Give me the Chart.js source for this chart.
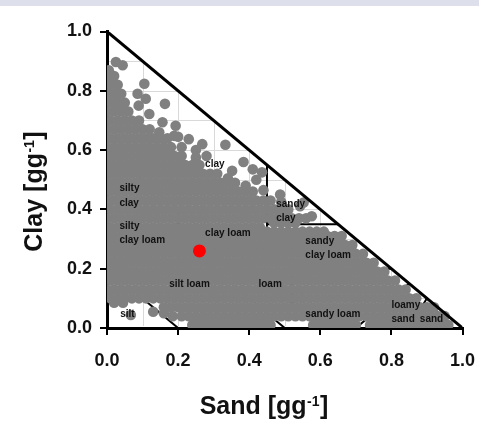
<!DOCTYPE html>
<html><head><meta charset="utf-8">
<script src="https://cdn.jsdelivr.net/npm/chart.js@4.4.0/dist/chart.umd.min.js"></script>
<style>html,body{margin:0;padding:0;background:#fff;}canvas{display:block;}</style>
</head><body>
<canvas id="c" width="479" height="434"></canvas>
<script>
// ---- tick labels / titles ----
const xTickLabels = ['0.0','0.2','0.4','0.6','0.8','1.0'];
const yTickLabels = ['0.0','0.2','0.4','0.6','0.8','1.0'];
const xTitleText = 'Sand [gg';
const yTitleText = 'Clay [gg';
const titleSup = '-1';
const gridValues = [0.1,0.2,0.3,0.4,0.5,0.6,0.7,0.8,0.9];

// ---- soil samples (percent): rows of clay with the sand values ----
const sampleClay = [1,4,7,10,13,16,19,22,25,28,31,34,32.5,35.5,37,40,43,46,49,52,55,58,61,64,67,70,73,76,79,82,85];
const sampleSand = [
 [24,26,28,30,32,34,36,38,40,42,44,46,58,60,62,64,66,68,70,74,76,78,80,82,84,86,88,90,92,94,96],
 [21,23,25,27,29,31,33,35,37,39,41,43,45,47,49,51,53,55,57,59,61,63,65,67,69,71,73,75,77,79,81,83,85,87,89,91,93,95],
 [16,18,20,22,24,26,28,30,32,34,36,38,40,42,44,46,48,50,52,54,56,58,60,62,64,66,68,70,72,74,76,78,80,82,84,86,88,90,92],
 [1,3,5,7,9,11,13,15,17,19,21,23,25,27,29,31,33,35,37,39,41,43,45,47,49,51,53,55,57,59,61,63,65,67,69,71,73,75,77,79,81,83,85,87],
 [0,2,4,6,8,10,12,14,16,18,20,22,24,26,28,30,32,34,36,38,40,42,44,46,48,50,52,54,56,58,60,62,64,66,68,70,72,74,76,78,80,82,84],
 [1,3,5,7,9,11,13,15,17,19,21,23,25,27,29,31,33,35,37,39,41,43,45,47,49,51,53,55,57,59,61,63,65,67,69,71,73,75,77,79,81],
 [0,2,4,6,8,10,12,14,16,18,20,22,24,26,28,30,32,34,36,38,40,42,44,46,48,50,52,54,56,58,60,62,64,66,68,70,72,74,76,78],
 [1,3,5,7,9,11,13,15,17,19,21,23,25,27,29,31,33,35,37,39,41,43,45,47,49,51,53,55,57,59,61,63,65,67,69,71,73,75],
 [0,2,4,6,8,10,12,14,16,18,20,22,24,26,28,30,32,34,36,38,40,42,44,46,48,50,52,54,56,58,60,62,64,66,68,70,72],
 [1,3,5,7,9,11,13,15,17,19,21,23,25,27,29,31,33,35,37,39,41,43,45,47,49,51,53,55,57,59,61,63,65,67,69],
 [0,2,4,6,8,10,12,14,16,18,20,22,24,26,28,30,32,34,36,38,40,42,44,46,48,50,52,54,56,58,60,62,64,66],
 [1,3,5,7,9,11,13,15,17,19,21,23,25,27,29,31,33,35,37,39,41,43],
 [45,47,49,51,53,55,57,59,61],
 [47,49,51,53],
 [0,2,4,6,8,10,12,14,16,18,20,22,24,26,28,30,32,34,36,38,40,42,44,46,48,50,52,54,56],
 [1,3,5,7,9,11,13,15,17,19,21,23,25,27,29,31,33,35,37,39,41,43,45,47,49,51],
 [0,2,4,6,8,10,12,14,16,18,20,22,24,26,28,30,32,34,36,38,40,42,44,46],
 [1,3,5,7,9,11,13,15,17,19,21,23,25,27,29,31,33,35,37,39,41],
 [0,2,4,6,8,10,12,14,16,18,20,22,24,26,28,30,32,34,36],
 [1,3,5,7,9,11,13,15,17,19,21,23,25,27,29,31],
 [0,2,4,6,8,10,12,14,16,18,20,22,24,26],
 [1,3,5,7,9,11,13,15,17,19,21],
 [0,2,4,6,8,10,12,14,16,18],
 [1,3,5,7,9,11,13,15,17],
 [0,2,4,6,8,10,12],
 [1,3,5,7,9],
 [0,2,4,6],
 [1,3,5],
 [0,2,4],
 [1,3],
 [0,2]
];
// isolated samples on the edge of the cloud [sand, clay] (percent)
const sampleEdge = [
 [0.5,86.9],[2.5,89.7],[4.4,88.6],[10.5,82.4],[8.6,79],[10.9,77.3],[8.9,75],[16.3,75.6],
 [11.9,72.2],[15.6,69.4],[19.3,68.2],[14.7,66],[18.9,64.8],[20,64.5],[23,63.7],[26.8,62],
 [33.3,61.8],[21,61],[25,60],[28,58],[25,57.5],[35.2,53],[38.4,56],[41,53.5],[43.6,52.5],
 [34,50.5],[39,48],[42,50],[44,46.5],[48.7,45],[49,42.5],[55.3,42.3],[54.3,41.1],[57.6,37.7],
 [6.7,4.4],[2,8.5],[4.5,8.5],[13,5.5],[16,5],[18.5,4]
];
const meanSample = [[26,26]];

// ---- texture class boundaries (percent sand, clay) ----
const classBoundaries = [
 [[0,40],[45,40]], [[20,40],[0,60]], [[45,27],[45,55]], [[45,35],[65,35]],
 [[0,27],[45,27]], [[20,27],[20,40]], [[45,27],[52,20]], [[52,20],[80,20]],
 [[52,7],[52,20]], [[43,7],[52,7]], [[23,27],[50,0]], [[0,12],[8,12]],
 [[8,12],[20,0]], [[70,0],[85,15]], [[85,0],[90,10]]
];
const triangleEdge = [[0,100],[100,0]];
const classLabels = [
 ['clay',27.6,54.2],['silty',3.5,46.3],['clay',3.5,41.2],['silty',3.5,33.5],['clay loam',3.5,28.6],
 ['clay loam',27.6,31.0],['silt loam',17.5,13.7],['loam',42.6,13.7],['silt',3.7,3.8],
 ['sandy',47.6,40.7],['clay',47.6,36.1],['sandy',55.8,28.3],['clay loam',55.8,23.5],
 ['sandy loam',55.8,3.8],['loamy',80,6.6],['sand',80,1.9],['sand',88,1.9]
];

// ---- build datasets ----
const P = v => v / 100;
const samplePoints = [];
sampleClay.forEach((c, i) => sampleSand[i].forEach(s => samplePoints.push({x: P(s), y: P(c)})));
sampleEdge.forEach(([s, c]) => samplePoints.push({x: P(s), y: P(c)}));

const datasets = [
 {label:'mean', data: meanSample.map(([s,c]) => ({x:P(s), y:P(c)})), pointRadius: 6.5, pointBackgroundColor:'#ff0000', pointBorderWidth:0, showLine:false, order:0},
 {label:'samples', data: samplePoints, pointRadius: 5.3, pointBackgroundColor:'#808080', pointBorderWidth:0, showLine:false, order:1},
 {label:'edge', data: triangleEdge.map(([s,c]) => ({x:P(s), y:P(c)})), showLine:true, borderColor:'#000', borderWidth:3, pointRadius:0, order:-1}
];
classBoundaries.forEach((seg, i) => datasets.push({
 label:'b'+i, data: seg.map(([s,c]) => ({x:P(s), y:P(c)})), showLine:true, borderColor:'#000', borderWidth:2, pointRadius:0, order:5
}));

const FONT = '"Liberation Sans", Arial, Helvetica, sans-serif';

const decor = {
 id:'decor',
 beforeDraw(chart){
  const {ctx, scales:{x, y}} = chart;
  ctx.save();
  ctx.fillStyle = '#dde0ea';
  ctx.fillRect(0, 0, chart.width, 6);
  ctx.strokeStyle = '#d9d9d9';
  ctx.lineWidth = 1;
  gridValues.forEach(v => {
   ctx.beginPath();
   const px = Math.round(x.getPixelForValue(v)) + 0.5;
   ctx.moveTo(px, y.getPixelForValue(0) - 2);
   ctx.lineTo(px, y.getPixelForValue(1 - v));
   ctx.stroke();
   ctx.beginPath();
   const py = Math.round(y.getPixelForValue(v)) + 0.5;
   ctx.moveTo(x.getPixelForValue(0) + 2, py);
   ctx.lineTo(x.getPixelForValue(1 - v), py);
   ctx.stroke();
  });
  ctx.restore();
 },
 afterDatasetsDraw(chart){
  const {ctx, scales:{x, y}} = chart;
  ctx.save();
  ctx.fillStyle = '#111';
  ctx.font = 'bold 10px ' + FONT;
  ctx.textBaseline = 'alphabetic';
  ctx.textAlign = 'left';
  classLabels.forEach(([t, s, c]) => ctx.fillText(t, x.getPixelForValue(P(s)), y.getPixelForValue(P(c))));
  ctx.restore();
 },
 afterDraw(chart){
  const ctx = chart.ctx;
  function title(main, cx, by){
   ctx.font = 'bold 25px ' + FONT;
   const w1 = ctx.measureText(main).width;
   const w3 = ctx.measureText(']').width;
   ctx.font = 'bold 14px ' + FONT;
   const w2 = ctx.measureText(titleSup).width;
   let sx = cx - (w1 + w2 + w3) / 2;
   ctx.font = 'bold 25px ' + FONT;
   ctx.fillText(main, sx, by);
   ctx.font = 'bold 14px ' + FONT;
   ctx.fillText(titleSup, sx + w1 + 0.5, by - 8);
   ctx.font = 'bold 25px ' + FONT;
   ctx.fillText(']', sx + w1 + w2 + 1, by);
  }
  ctx.save();
  ctx.fillStyle = '#111';
  ctx.textBaseline = 'alphabetic';
  ctx.textAlign = 'left';
  title(xTitleText, 263.5, 414);
  ctx.translate(41.5, 192);
  ctx.rotate(-Math.PI / 2);
  title(yTitleText, 0, 0);
  ctx.restore();
 }
};

const axisCommon = {
 type:'linear', min:0, max:1,
 grid:{display:true, drawOnChartArea:false, drawTicks:true, tickLength:7, color:'#000', lineWidth:2},
 border:{display:true, color:'#000', width:3},
};

new Chart(document.getElementById('c'), {
 type:'scatter',
 data:{datasets},
 options:{
  responsive:false, animation:false, devicePixelRatio:1,
  layout:{padding:{top:31.5, right:16.5, left:0, bottom:0}},
  plugins:{legend:{display:false}, tooltip:{enabled:false}},
  scales:{
   x:{...axisCommon, position:'bottom',
      ticks:{stepSize:0.2, padding:15, maxRotation:0, minRotation:0, color:'#111', font:{family:FONT, size:18, weight:'bold'},
             callback:(v,i)=>xTickLabels[i]},
      afterFit: s => { s.height = 106; s.paddingLeft = 0; s.paddingRight = 0; }},
   y:{...axisCommon, position:'left',
      ticks:{stepSize:0.2, padding:8, color:'#111', font:{family:FONT, size:18, weight:'bold'},
             callback:(v,i)=>yTickLabels[i]},
      afterFit: s => { s.width = 107; s.paddingTop = 0; s.paddingBottom = 0; }}
  }
 },
 plugins:[decor]
});
</script>
</body></html>
